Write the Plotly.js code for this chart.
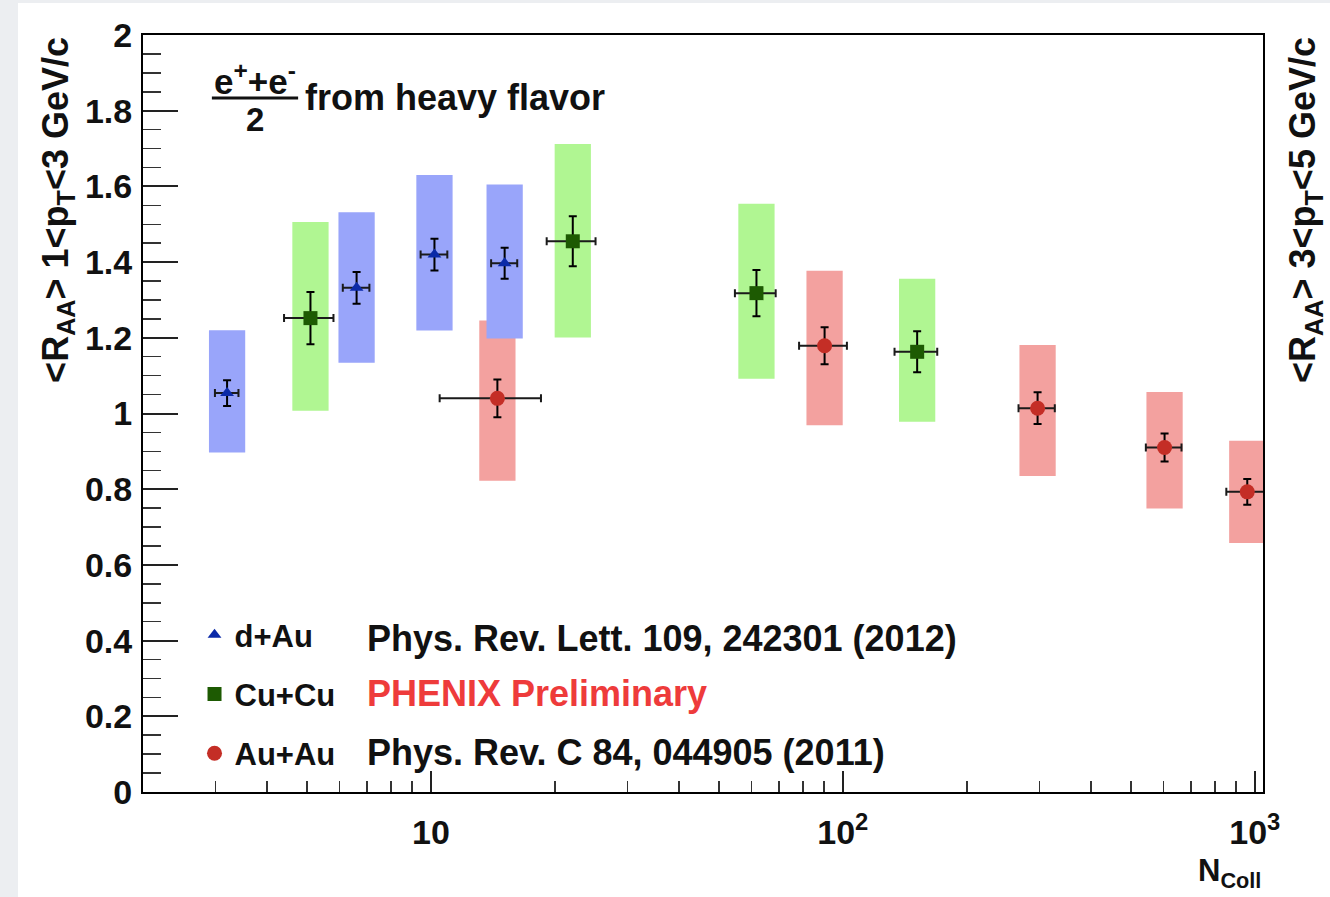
<!DOCTYPE html>
<html>
<head>
<meta charset="utf-8">
<script src="https://cdn.plot.ly/plotly-3.0.1.min.js"></script>
<style>
  html, body { margin: 0; padding: 0; background: #eceef1; width: 1330px; height: 897px; overflow: hidden; }
  #plot { position: absolute; left: 18px; top: 3px; width: 1312px; height: 894px; background: #fff; }
</style>
</head>
<body>
<div id="plot"></div>
<script>
// Heavy-flavour electron R_AA versus number of binary collisions

// d+Au
const dAuNcoll   = [3.2, 6.6, 10.2, 15.1];
const dAuNcollErr = [0.21, 0.49, 0.76, 1.1];
const dAuRaa     = [1.054, 1.332, 1.420, 1.397];
const dAuStat    = [0.034, 0.042, 0.042, 0.041];
const dAuSysLow  = [0.897, 1.134, 1.219, 1.198];
const dAuSysHigh = [1.220, 1.532, 1.630, 1.605];

// Cu+Cu
const cuNcoll    = [5.1, 22.1, 61.7, 151.5];
const cuNcollErr = [0.7, 3.0, 7.0, 18];
const cuRaa      = [1.252, 1.455, 1.318, 1.163];
const cuStat     = [0.069, 0.066, 0.061, 0.054];
const cuSysLow   = [1.007, 1.201, 1.092, 0.978];
const cuSysHigh  = [1.506, 1.712, 1.554, 1.356];

// Au+Au
const auNcoll    = [14.5, 90.3, 297, 604, 959];
const auNcollErr = [4.0, 12, 30, 60, 106];
const auRaa      = [1.040, 1.179, 1.014, 0.910, 0.793];
const auStat     = [0.050, 0.049, 0.042, 0.037, 0.034];
const auSysLow   = [0.822, 0.969, 0.835, 0.749, 0.658];
const auSysHigh  = [1.246, 1.377, 1.181, 1.057, 0.928];

const seriesNames = ['d+Au', 'Cu+Cu', 'Au+Au'];
const references = ['Phys. Rev. Lett. 109, 242301 (2012)', 'PHENIX Preliminary', 'Phys. Rev. C 84, 044905 (2011)'];
const xTickVals = [10, 100, 1000];
const xTickText = ['10', '10<sup>2</sup>', '10<sup>3</sup>'];

const FONT = 'Liberation Sans, Arial, Helvetica, sans-serif';
const BOX_HALF = Math.pow(10, 0.044);   // half-width of systematic boxes in log space

// Systematic-uncertainty boxes: one filled polygon per point
function sysBoxes(xs, lo, hi, color) {
  const bx = [], by = [];
  xs.forEach((x, i) => {
    const a = x / BOX_HALF, b = x * BOX_HALF;
    bx.push(a, b, b, a, a, null);
    by.push(lo[i], lo[i], hi[i], hi[i], lo[i], null);
  });
  return {
    x: bx, y: by, type: 'scatter', mode: 'lines', fill: 'toself',
    fillcolor: color, line: {width: 0, color: color},
    hoverinfo: 'skip', showlegend: false
  };
}

function points(name, xs, xe, ys, ye, symbol, color, size) {
  return {
    name: name, x: xs, y: ys, type: 'scatter', mode: 'markers',
    legendgroup: name,
    marker: {symbol: symbol, color: color, size: size, line: {width: 0}},
    error_x: {type: 'data', array: xe, visible: true, color: '#1a1a1a', thickness: 2, width: 4},
    error_y: {type: 'data', array: ye, visible: true, color: '#000', thickness: 2, width: 4}
  };
}

const traces = [
  sysBoxes(auNcoll, auSysLow, auSysHigh, '#f3a19f'),
  sysBoxes(cuNcoll, cuSysLow, cuSysHigh, '#b0f692'),
  sysBoxes(dAuNcoll, dAuSysLow, dAuSysHigh, '#99a5fa'),
  points(seriesNames[0], dAuNcoll, dAuNcollErr, dAuRaa, dAuStat, 'triangle-up', '#0b2aa8', 12),
  points(seriesNames[1], cuNcoll, cuNcollErr, cuRaa, cuStat, 'square', '#1d5a02', 14),
  points(seriesNames[2], auNcoll, auNcollErr, auRaa, auStat, 'circle', '#c42e26', 15)
];

// log-axis minor tick positions
const xMinor = [];
[1, 10, 100].forEach(d => { for (let k = 2; k <= 9; k++) xMinor.push(k * d); });

const txt = (s, x, y, opts) => Object.assign({
  text: s, x: x, y: y, xref: 'paper', yref: 'paper', showarrow: false,
  font: {family: FONT, size: 34, color: '#111', weight: 'bold'}
}, opts || {});
const bold = (size, color) => ({family: FONT, size: size, color: color || '#111', weight: 'bold'});

const annotations = [
  // fraction (e+ + e-)/2
  txt('e<sup>+</sup>+e<sup>-</sup>', 0.100, 0.942, {xanchor: 'center', yanchor: 'middle', font: bold(35)}),
  txt('2', 0.100, 0.889, {xanchor: 'center', yanchor: 'middle', font: bold(33)}),
  txt('from heavy flavor', 0.143, 0.917, {xanchor: 'left', yanchor: 'middle', font: bold(36)}),
  // axis titles
  txt('&lt;R<sub>AA</sub>&gt; 1&lt;p<sub>T</sub>&lt;3 GeV/c', -0.076, 1.0, {xanchor: 'center', yanchor: 'top', textangle: -90, font: bold(36)}),
  txt('&lt;R<sub>AA</sub>&gt; 3&lt;p<sub>T</sub>&lt;5 GeV/c', 1.0375, 1.0, {xanchor: 'center', yanchor: 'top', textangle: -90, font: bold(36)}),
  txt('N<sub>Coll</sub>', 1.0, -0.078, {xanchor: 'right', yanchor: 'top', font: bold(31)}),
  // reference column of the legend
  txt(references[0], 0.198, 0.203, {xanchor: 'left', yanchor: 'middle', font: bold(36)}),
  txt(references[1], 0.198, 0.130, {xanchor: 'left', yanchor: 'middle', font: bold(36, '#ee3b3b')}),
  txt(references[2], 0.198, 0.052, {xanchor: 'left', yanchor: 'middle', font: bold(36)})
];

const shapes = [
  {type: 'line', xref: 'paper', yref: 'paper', x0: 0.0615, x1: 0.1385, y0: 0.9168, y1: 0.9168, line: {color: '#111', width: 3}}
];

const layout = {
  width: 1312, height: 894,
  margin: {l: 125, r: 67, t: 32, b: 105},
  paper_bgcolor: '#ffffff', plot_bgcolor: '#ffffff',
  font: {family: FONT, color: '#111', weight: 'bold'},
  showlegend: true,
  legend: {
    x: 0.046, y: 0.243, xanchor: 'left', yanchor: 'top',
    bgcolor: 'rgba(0,0,0,0)', borderwidth: 0,
    font: bold(31),
    tracegroupgap: 16, itemwidth: 30, traceorder: 'grouped'
  },
  xaxis: {
    type: 'log', range: [Math.log10(2), 3.02],
    showgrid: false, zeroline: false,
    showline: true, mirror: true, linecolor: '#000', linewidth: 2,
    ticks: 'inside', ticklen: 21, tickwidth: 2, tickcolor: '#222',
    tickvals: xTickVals, ticktext: xTickText,
    tickfont: bold(34),
    ticklabelstandoff: 9,
    minor: {tickvals: xMinor, ticks: 'inside', ticklen: 11, tickwidth: 1.5, tickcolor: '#333', showgrid: false}
  },
  yaxis: {
    range: [0, 2], dtick: 0.2, tick0: 0,
    showgrid: false, zeroline: false,
    showline: true, mirror: true, linecolor: '#000', linewidth: 2,
    ticks: 'inside', ticklen: 35, tickwidth: 2, tickcolor: '#222',
    tickfont: bold(34),
    ticklabelstandoff: 2,
    minor: {dtick: 0.05, ticks: 'inside', ticklen: 18, tickwidth: 1.5, tickcolor: '#333', showgrid: false}
  },
  annotations: annotations,
  shapes: shapes
};

Plotly.newPlot('plot', traces, layout, {staticPlot: true, displayModeBar: false});
</script>
</body>
</html>
